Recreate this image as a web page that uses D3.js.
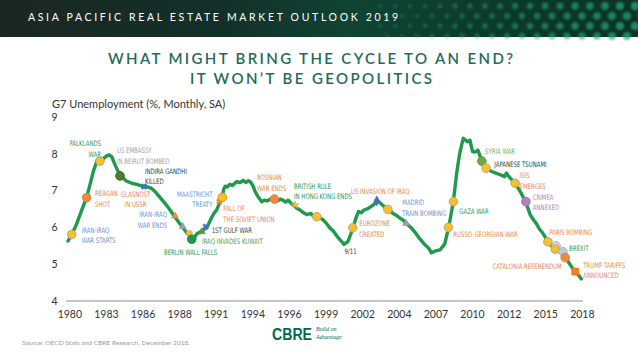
<!DOCTYPE html>
<html><head><meta charset="utf-8">
<script src="https://cdn.jsdelivr.net/npm/d3@7"></script>
<style>body{margin:0;background:#fff}svg{display:block}</style>
</head><body>
<svg id="c" width="638" height="359"></svg>
<script>
// ---------- DATA ----------
const tickLabels = ["1980","1983","1986","1988","1991","1994","1996","1999","2002","2004","2007","2010","2012","2015","2018"];
const yTicks = [4,5,6,7,8,9];

const lineYears = [1980.00,1980.28,1980.60,1980.90,1981.15,1981.40,1981.65,1981.90,1982.20,1982.40,1982.70,1982.95,1983.10,1983.30,1983.55,1983.90,1984.40,1984.80,1985.20,1985.70,1986.00,1986.30,1986.60,1986.90,1987.30,1987.60,1988.10,1988.60,1989.10,1989.35,1989.55,1989.70,1990.10,1990.50,1990.80,1991.00,1991.20,1991.45,1991.60,1991.75,1991.85,1992.00,1992.20,1992.40,1992.70,1993.00,1993.20,1993.40,1993.60,1993.80,1993.95,1994.10,1994.30,1994.60,1994.80,1995.00,1995.30,1995.60,1995.80,1996.00,1996.20,1996.40,1996.60,1996.80,1997.00,1997.25,1997.50,1997.75,1998.00,1998.30,1998.50,1998.75,1999.00,1999.25,1999.50,1999.75,2000.00,2000.30,2000.55,2000.80,2000.95,2001.10,2001.30,2001.50,2001.70,2001.90,2002.10,2002.30,2002.55,2002.80,2003.05,2003.30,2003.50,2003.70,2004.10,2004.30,2004.50,2004.75,2005.00,2005.25,2005.50,2005.90,2006.20,2006.50,2006.85,2007.20,2007.40,2007.70,2008.05,2008.40,2008.70,2008.90,2009.05,2009.30,2009.50,2009.65,2009.80,2009.95,2010.10,2010.30,2010.50,2010.70,2010.90,2011.20,2011.50,2011.75,2011.95,2012.30,2012.60,2012.90,2013.05,2013.20,2013.50,2013.70,2014.10,2014.50,2014.85,2015.10,2015.30,2015.55,2015.80,2016.20,2016.45,2016.70,2017.20,2017.50,2017.80,2018.20,2018.50,2018.70];
const lineValues = [5.63,5.81,6.05,6.34,6.58,6.81,7.15,7.51,7.83,7.82,7.88,7.95,7.97,7.92,7.70,7.42,7.26,7.20,7.17,7.11,7.10,7.06,6.96,6.83,6.66,6.52,6.26,6.02,5.79,5.70,5.74,5.82,5.90,6.02,6.25,6.38,6.47,6.68,6.79,7.05,7.12,7.10,7.17,7.14,7.24,7.22,7.28,7.22,7.27,7.22,7.13,6.98,6.85,6.70,6.74,6.72,6.78,6.77,6.72,6.77,6.74,6.69,6.74,6.66,6.61,6.52,6.47,6.40,6.35,6.38,6.31,6.29,6.26,6.20,6.10,5.98,5.90,5.75,5.65,5.54,5.58,5.61,5.80,6.00,6.25,6.43,6.40,6.47,6.50,6.56,6.62,6.72,6.68,6.61,6.49,6.45,6.38,6.33,6.26,6.20,6.11,5.98,5.85,5.70,5.55,5.43,5.31,5.36,5.39,5.55,6.00,6.40,6.70,7.47,7.95,8.20,8.42,8.38,8.33,8.37,8.06,8.05,8.10,7.80,7.63,7.56,7.52,7.47,7.43,7.38,7.48,7.40,7.28,7.20,6.97,6.70,6.34,6.20,6.11,5.95,5.84,5.61,5.50,5.41,5.30,5.18,5.02,4.80,4.70,4.60];

// event markers on the line
const eventYears  = [1980.28,1981.41,1982.41,1983.92,1985.73,1988.07,1988.65,1989.15,1989.33,1990.08,1990.38,1991.41,1991.64,1995.56,1997.12,1998.76,2001.47,2003.28,2004.11,2005.49,2008.68,2009.06,2011.20,2011.52,2013.71,2014.52,2016.18,2016.80,2016.73,2017.31,2017.48,2018.24];
const eventValues = [5.81,6.81,7.80,7.40,7.11,6.31,6.02,5.84,5.68,5.88,6.02,6.70,6.82,6.77,6.61,6.29,5.99,6.72,6.49,6.11,6.00,6.70,7.80,7.61,7.20,6.70,5.61,5.50,5.41,5.34,5.18,4.80];
const eventShapes = ["big","big","big","big","x","tri","tri","small","big","tri","x","x","big","big","star","big","big","diamond","big","tri","big","big","big","big","big","big","big","big","big","big","big","square"];
const eventKinds  = ["yellow","orange","yellow","darkgreen","blue","orange","grey","yellow","green","olive","blue","orange","yellowO","orange","yellow","yellow","yellow","blue","yellow","grey","yellow","yellow","lgreen","yellow","yellow","purple","yellow","lgrey","yellow","lblue","orange","orangeSq"];

// annotations
const labelLines = [["IRAN-IRAQ","WAR STARTS"],["REAGAN","SHOT"],["FALKLANDS","WAR"],["US EMBASSY","IN BEIRUT BOMBED"],["INDIRA GANDHI","KILLED"],["GLASNOST","IN USSR"],["IRAN-IRAQ","WAR ENDS"],["BERLIN WALL FALLS"],["1ST GULF WAR"],["IRAQ INVADES KUWAIT"],["MAASTRICHT","TREATY"],["FALL OF","THE SOVIET UNION"],["BOSNIAN","WAR ENDS"],["BRITISH RULE","IN HONG KONG ENDS"],["9/11"],["US INVASION OF IRAQ"],["EUROZONE","CREATED"],["MADRID","TRAIN BOMBING"],["GAZA WAR"],["RUSSO-GEORGIAN WAR"],["SYRIA WAR"],["JAPANESE TSUNAMI"],["ISIS","EMERGES"],["CRIMEA","ANNEXED"],["PARIS BOMBING"],["BREXIT"],["CATALONIA REFERENDUM"],["TRUMP TARIFFS","ANNOUNCED"]];
const labelYears  = [1981.03,1982.04,1982.49,1983.69,1985.80,1985.09,1987.46,1989.24,1990.83,1990.10,1990.89,1991.71,1994.25,1997.04,2001.30,2001.33,2001.96,2005.20,2009.50,2009.05,2011.44,2012.14,2014.04,2015.03,2016.28,2017.77,2017.22,2018.85];
const labelValues = [5.93,6.93,8.29,8.10,7.53,6.91,6.36,5.32,5.91,5.61,6.91,6.52,7.35,7.13,5.36,6.97,6.11,6.67,6.45,5.80,8.08,7.72,7.42,6.83,5.86,5.43,4.95,4.98];
const labelAlign  = ["start","start","end","start","start","middle","end","middle","start","start","end","start","start","start","middle","start","start","start","start","start","start","start","start","start","start","start","end","start"];
const labelKinds  = ["blue","orange","green","grey","dark","orange","blue","green","dark","olive","blue","orange","orange","green","dark","orange","orange","blue","green","orange","lgreen","dark","orange","purple","orange","green","orange","orange"];

// ---------- STYLE ----------
const fills = {yellow:"#f6c12c",yellowO:"#f6c12c",orange:"#ec8a3e",darkgreen:"#4f7b31",green:"#1f9a4c",olive:"#5f9a45",blue:"#3f74bd",grey:"#9aa1a8",lgreen:"#71a645",purple:"#b57fc8",lgrey:"#cfd3d7",lblue:"#b9c9d9",orangeSq:"#f07f1f"};
const strokes = {yellow:"#b9a77f",yellowO:"#e0892f",orange:"#d9813c",darkgreen:"#3f6a28",green:"#1a8a42",olive:"#4f8a38",blue:"#3f74bd",grey:"#8a9198",lgreen:"#5f9a3a",purple:"#a46fb8",lgrey:"#b8bcc0",lblue:"#a4b6c8",orangeSq:"#e07010"};
const textCols = {blue:"#6b98d2",orange:"#e8884d",green:"#2a9a5c",grey:"#a4a4a4",dark:"#2c4a3e",olive:"#5b9a44",lgreen:"#7cb046",purple:"#b27fc6"};

const svg = d3.select("#c");
svg.append("rect").attr("width",638).attr("height",359).attr("fill","#fff");

// banner
const defs = svg.append("defs");
const g1 = defs.append("linearGradient").attr("id","ban").attr("x1","0").attr("x2","1");
[["0","#1b2722"],["0.35","#13302a"],["0.55","#0f4433"],["0.75","#0c3b2d"],["1","#0a3327"]].forEach(s=>g1.append("stop").attr("offset",s[0]).attr("stop-color",s[1]));
const blur = defs.append("filter").attr("id","bl").append("feGaussianBlur").attr("stdDeviation",1.2);
svg.append("rect").attr("width",638).attr("height",37).attr("fill","url(#ban)");
const dots = [];
d3.range(380, 640, 15).forEach((cx,i)=>d3.range(6, 37, 10).forEach((cy,j)=>dots.push([cx + (j%2)*7, cy, (cx-380)/260])));
svg.append("g").attr("filter","url(#bl)").selectAll("circle").data(dots).join("circle")
  .attr("cx",d=>d[0]).attr("cy",d=>d[1]).attr("r",d=>2+2.2*d[2])
  .attr("fill","#2aa57a").attr("opacity",d=>0.25+0.5*d[2]);
svg.append("text").attr("x",28).attr("y",21).attr("fill","#fff")
  .attr("font-family","Lato, 'Open Sans', sans-serif").attr("font-size",10.5)
  .attr("textLength",370).attr("lengthAdjust","spacing")
  .text("ASIA PACIFIC REAL ESTATE MARKET OUTLOOK 2019");

// title
const tf = "Lato, 'Noto Sans', sans-serif";
svg.append("text").attr("x",310.5).attr("y",64).attr("text-anchor","middle").attr("fill","#1e6c58")
  .attr("font-family",tf).attr("font-size",15).attr("font-weight",600)
  .attr("textLength",405).attr("lengthAdjust","spacing").text("WHAT MIGHT BRING THE CYCLE TO AN END?");
svg.append("text").attr("x",311).attr("y",84).attr("text-anchor","middle").attr("fill","#1e6c58")
  .attr("font-family",tf).attr("font-size",15).attr("font-weight",600)
  .attr("textLength",242).attr("lengthAdjust","spacing").text("IT WON\u2019T BE GEOPOLITICS");

svg.append("text").attr("x",52).attr("y",107.5).attr("fill","#333")
  .attr("font-family",tf).attr("font-size",11).text("G7 Unemployment (%, Monthly, SA)");

// scales
const x = d3.scaleLinear().domain([1980, 2018.75]).range([68, 582]);
const y = d3.scaleLinear().domain([4, 9]).range([301, 117]);

// axes
const xTickVals = tickLabels.map((_, i) => 1980.1 + i * (2018.74 - 1980.1) / (tickLabels.length - 1));
const xa = svg.append("g").attr("transform",`translate(0,${y(4)})`)
  .call(d3.axisBottom(x).tickValues(xTickVals).tickFormat((d,i)=>tickLabels[i]).tickSize(0).tickSizeOuter(0).tickPadding(9.5));
xa.select(".domain").attr("stroke","#8c8c8c").attr("stroke-width",1).attr("d","M66,0H583");
xa.selectAll("text").attr("font-family",tf).attr("font-size",10.5).attr("fill","#333");

const ya = svg.append("g").attr("transform","translate(62,0)")
  .call(d3.axisLeft(y).tickValues(yTicks).tickSize(0).tickPadding(4.5).tickFormat(d3.format("d")));
ya.select(".domain").remove();
ya.selectAll("text").attr("font-family",tf).attr("font-size",10.5).attr("fill","#333");

// line
const pts = lineYears.map((yr,i)=>[yr, lineValues[i]]);
svg.append("path").datum(pts)
  .attr("d", d3.line().x(d=>x(d[0])).y(d=>y(d[1])))
  .attr("fill","none").attr("stroke","#1e9a4c").attr("stroke-width",3.4)
  .attr("stroke-linejoin","round").attr("stroke-linecap","round");

// markers
const ev = eventYears.map((yr,i)=>({yr, v:eventValues[i], s:eventShapes[i], k:eventKinds[i]}));
const symFor = s => ({big:[d3.symbolCircle,58],small:[d3.symbolCircle,30],x:[d3.symbolCross,22],tri:[d3.symbolTriangle,22],star:[d3.symbolStar,20],diamond:[d3.symbolDiamond,30],square:[d3.symbolSquare,52]}[s]);
svg.append("g").selectAll("path").data(ev).join("path")
  .attr("transform",d=>`translate(${x(d.yr)},${y(d.v)})${d.s==="x"?" rotate(45)":""}`)
  .attr("d",d=>{const [t,sz]=symFor(d.s);return d3.symbol(t,sz)();})
  .attr("fill",d=>fills[d.k]).attr("stroke",d=>strokes[d.k])
  .attr("stroke-width",d=>d.s==="big"?1:0.5);

// annotations
const lf = "'Liberation Sans Narrow','DejaVu Sans Condensed','Liberation Sans',sans-serif";
const lab = svg.append("g");
labelLines.forEach((lines,i)=>{
  const t = lab.append("text")
    .attr("transform",`translate(${x(labelYears[i])},${y(labelValues[i])}) scale(0.8,1)`)
    .attr("text-anchor",labelAlign[i]).attr("fill",textCols[labelKinds[i]])
    .attr("font-family",lf).attr("font-size",7.5);
  lines.forEach((ln,j)=>t.append("tspan").attr("x",0).attr("y",j*10.7).attr("dy","0.36em").text(ln));
});

// footer
svg.append("text").attr("x",22).attr("y",345).attr("fill","#9a9a9a")
  .attr("font-family",tf).attr("font-size",5).attr("textLength",168).attr("lengthAdjust","spacingAndGlyphs")
  .text("Source: OECD Stats and CBRE Research, December 2018.");
svg.append("text").attr("x",272).attr("y",340).attr("fill","#006a4d")
  .attr("font-family","'Liberation Sans', Arial, sans-serif").attr("font-weight",700).attr("font-size",16)
  .attr("textLength",40).attr("lengthAdjust","spacingAndGlyphs").text("CBRE");
const bt = svg.append("text").attr("fill","#006a4d").attr("font-family","'Liberation Serif', serif").attr("font-style","italic").attr("font-size",6);
bt.append("tspan").attr("x",316).attr("y",331).text("Build on");
bt.append("tspan").attr("x",316).attr("y",338.5).text("Advantage");
</script>
</body></html>
